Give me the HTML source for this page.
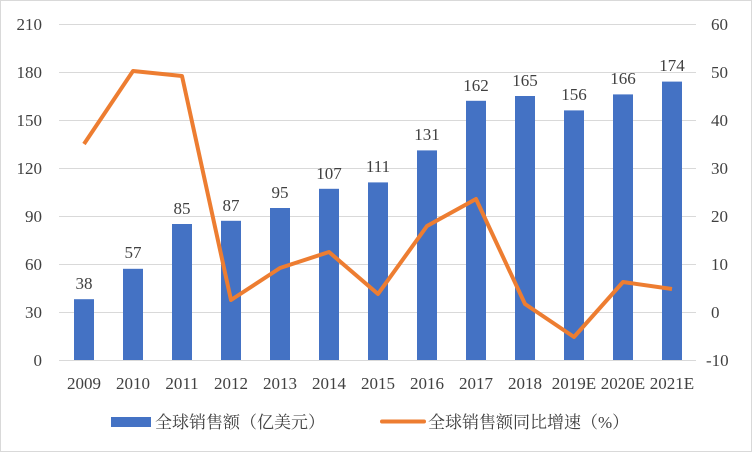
<!DOCTYPE html>
<html><head><meta charset="utf-8"><style>
html,body{margin:0;padding:0;background:#fff}
svg{display:block}
text{font-family:"Liberation Serif","Noto Serif CJK SC",serif;fill:#404040}
</style></head><body>
<svg width="752" height="452" viewBox="0 0 752 452" xmlns="http://www.w3.org/2000/svg">
<rect x="0.5" y="0.5" width="751" height="451" fill="#fff" stroke="#d9d9d9"/>
<g stroke="#d9d9d9" stroke-width="1">
<line x1="59" x2="696" y1="24.5" y2="24.5"/>
<line x1="59" x2="696" y1="72.5" y2="72.5"/>
<line x1="59" x2="696" y1="120.5" y2="120.5"/>
<line x1="59" x2="696" y1="168.5" y2="168.5"/>
<line x1="59" x2="696" y1="216.5" y2="216.5"/>
<line x1="59" x2="696" y1="264.5" y2="264.5"/>
<line x1="59" x2="696" y1="312.5" y2="312.5"/>
<line x1="59" x2="696" y1="360.5" y2="360.5"/>
</g>
<g fill="#4472c4">
<rect x="74" y="299.2" width="20" height="60.8"/>
<rect x="123" y="268.8" width="20" height="91.2"/>
<rect x="172" y="224" width="20" height="136"/>
<rect x="221" y="220.8" width="20" height="139.2"/>
<rect x="270" y="208" width="20" height="152"/>
<rect x="319" y="188.8" width="20" height="171.2"/>
<rect x="368" y="182.4" width="20" height="177.6"/>
<rect x="417" y="150.4" width="20" height="209.6"/>
<rect x="466" y="100.8" width="20" height="259.2"/>
<rect x="515" y="96" width="20" height="264"/>
<rect x="564" y="110.4" width="20" height="249.6"/>
<rect x="613" y="94.4" width="20" height="265.6"/>
<rect x="662" y="81.6" width="20" height="278.4"/>
</g>
<g font-size="17" text-anchor="middle">
<text x="84" y="289">38</text><text x="133" y="258">57</text><text x="182" y="214">85</text>
<text x="231" y="211">87</text><text x="280" y="198">95</text><text x="329" y="179">107</text>
<text x="378" y="172">111</text><text x="427" y="140">131</text><text x="476" y="91">162</text>
<text x="525" y="86">165</text><text x="574" y="100">156</text><text x="623" y="84">166</text>
<text x="672" y="71">174</text>
</g>
<polyline fill="none" stroke="#ed7d31" stroke-width="4" stroke-linejoin="round" points="84,144 133,71 182,76 231,300 280,268 329,252 378,294 427,226 476,199 525,304 574,337 623,282 672,289"/>
<g font-size="17" text-anchor="end">
<text x="42" y="30">210</text><text x="42" y="78">180</text><text x="42" y="126">150</text>
<text x="42" y="174">120</text><text x="42" y="222">90</text><text x="42" y="270">60</text>
<text x="42" y="318">30</text><text x="42" y="366">0</text>
</g>
<g font-size="17" text-anchor="start">
<text x="711" y="30">60</text><text x="711" y="78">50</text><text x="711" y="126">40</text>
<text x="711" y="174">30</text><text x="711" y="222">20</text><text x="711" y="270">10</text>
<text x="711" y="318">0</text><text x="706" y="366">-10</text>
</g>
<g font-size="17" text-anchor="middle">
<text x="84" y="389">2009</text><text x="133" y="389">2010</text><text x="182" y="389">2011</text>
<text x="231" y="389">2012</text><text x="280" y="389">2013</text><text x="329" y="389">2014</text>
<text x="378" y="389">2015</text><text x="427" y="389">2016</text><text x="476" y="389">2017</text>
<text x="525" y="389">2018</text><text x="574" y="389">2019E</text><text x="623" y="389">2020E</text>
<text x="672" y="389">2021E</text>
</g>
<rect x="111" y="417" width="40" height="10" fill="#4472c4"/>
<text x="155" y="428" font-size="17">全球销售额（亿美元）</text>
<line x1="382" x2="424" y1="421.5" y2="421.5" stroke="#ed7d31" stroke-width="4" stroke-linecap="round"/>
<text x="428" y="428" font-size="17">全球销售额同比增速（%）</text>
</svg>
</body></html>
